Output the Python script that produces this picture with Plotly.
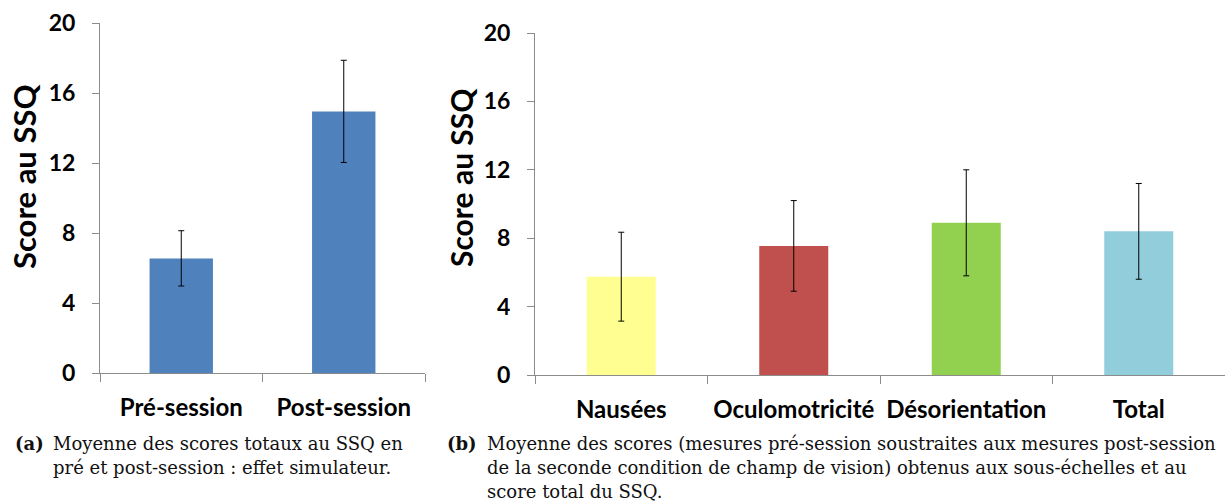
import plotly.graph_objects as go

# Data
cats_a = ["Pré-session", "Post-session"]
means_a = [6.55, 14.95]
err_a = [1.58, 2.92]

cats_b = ["Nausées", "Oculomotricité", "Désorientation", "Total"]
means_b = [5.75, 7.55, 8.9, 8.4]
err_b = [2.6, 2.65, 3.1, 2.8]

y_ticks = [0, 4, 8, 12, 16, 20]

color_a = "#4F81BD"
colors_b = ["#FFFF91", "#C0504D", "#92D050", "#92CDDC"]

W, H = 1229, 502


def px_x(x):
    return x / W


def px_y(y):
    return 1 - y / H


AXIS_GREY = "#8C8C8C"
SANS = "Lato, 'Open Sans', sans-serif"
SERIF = "'DejaVu Serif', serif"

fig = go.Figure()

fig.add_trace(go.Bar(
    x=cats_a, y=means_a, width=0.39,
    marker=dict(color=color_a, line=dict(width=0)),
    error_y=dict(type="data", array=err_a, color="black", thickness=1, width=3),
    xaxis="x", yaxis="y", showlegend=False,
))

fig.add_trace(go.Bar(
    x=cats_b, y=means_b, width=0.4,
    marker=dict(color=colors_b, line=dict(width=0)),
    error_y=dict(type="data", array=err_b, color="black", thickness=1, width=3),
    xaxis="x2", yaxis="y2", showlegend=False,
))

xaxis_common = dict(
    type="category", showline=True, linecolor=AXIS_GREY, linewidth=1,
    ticks="outside", tickson="boundaries", ticklen=8, tickcolor=AXIS_GREY,
    showgrid=False, zeroline=False, automargin=False,
    tickfont=dict(family=SANS, size=24, color="black", weight="bold"),
    ticklabelstandoff=13,
)
yaxis_common = dict(
    range=[0, 20], tickvals=y_ticks, showline=True, linecolor=AXIS_GREY,
    linewidth=1, ticks="outside", ticklen=7, tickcolor=AXIS_GREY,
    showgrid=False, zeroline=False, automargin=False,
    tickfont=dict(family=SANS, size=23, color="black", weight="bold"),
)

fig.update_layout(
    width=W, height=H,
    margin=dict(l=0, r=0, t=0, b=0),
    paper_bgcolor="white", plot_bgcolor="white",
    xaxis=dict(xaxis_common, domain=[px_x(100), px_x(425)], anchor="y"),
    yaxis=dict(yaxis_common, domain=[px_y(373), px_y(23)], anchor="x",
               ticklabelstandoff=12),
    xaxis2=dict(xaxis_common, domain=[px_x(535), px_x(1225)], anchor="y2"),
    yaxis2=dict(yaxis_common, domain=[px_y(375), px_y(33)], anchor="x2",
                ticklabelstandoff=12),
)

# Axis titles
fig.add_annotation(text="<b>Score au SSQ</b>", textangle=-90, x=px_x(24), y=px_y(177),
                   xref="paper", yref="paper", xanchor="center", showarrow=False,
                   font=dict(family=SANS, size=31, color="black"))
fig.add_annotation(text="<b>Score au SSQ</b>", textangle=-90, x=px_x(461), y=px_y(178),
                   xref="paper", yref="paper", xanchor="center", showarrow=False,
                   font=dict(family=SANS, size=30, color="black"))

# Captions
cap_font = dict(family=SERIF, size=18, color="#111111")


def caption(text, x, y, anchor="left"):
    fig.add_annotation(text=text, x=px_x(x), y=px_y(y), xref="paper", yref="paper",
                       xanchor=anchor, yanchor="middle", showarrow=False, font=cap_font)


caption("<b>(a)</b>", 46, 443, "right")
caption("Moyenne des scores totaux au SSQ en", 51, 443)
caption("pré et post-session : effet simulateur.", 51, 467)

caption("<b>(b)</b>", 479, 443, "right")
caption("Moyenne des scores (mesures pré-session soustraites aux mesures post-session", 485, 443)
caption("de la seconde condition de champ de vision) obtenus aux sous-échelles et au", 485, 467)
caption("score total du SSQ.", 485, 491)

fig.write_html("out.html", config={"displayModeBar": False},
               post_script="document.body.style.margin='0';")
